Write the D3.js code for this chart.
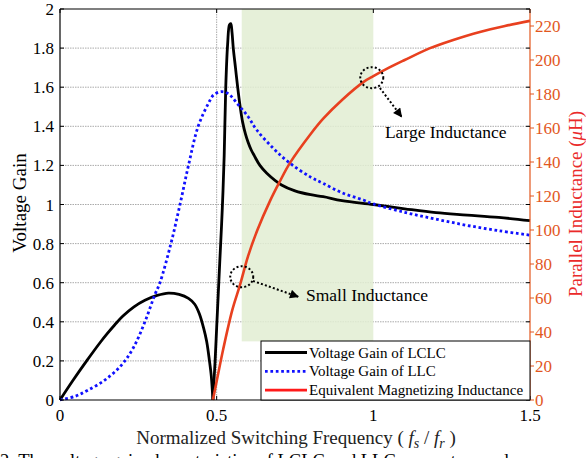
<!DOCTYPE html>
<html><head><meta charset="utf-8">
<script src="https://cdn.jsdelivr.net/npm/d3@7"></script>
<style>
body{margin:0;background:#fff;}
svg{display:block;font-family:"Liberation Serif","Times New Roman",serif;}
</style></head>
<body><svg id="c" width="586" height="458"></svg>
<script>
// ---- data ----
const lclcLeftX  = [0,0.04,0.085,0.13,0.15,0.175,0.2,0.235,0.271,0.31,0.346,0.38,0.41,0.43,0.445,0.458,0.468,0.477,0.483,0.488];
const lclcLeftY  = [0,0.097,0.2,0.298,0.338,0.385,0.428,0.475,0.51,0.535,0.547,0.54,0.52,0.49,0.44,0.37,0.3,0.2,0.12,0];
const lclcRightX = [0.488,0.495,0.5,0.505,0.51,0.518,0.524,0.529,0.535,0.541,0.545,0.549,0.553,0.56,0.567,0.575,0.583,0.592,0.6,0.61,0.62,0.638,0.66,0.707,0.75,0.8,0.84,0.9,1.0,1.1,1.2,1.3,1.4,1.5];
const lclcRightY = [0,0.2,0.37,0.54,0.71,0.98,1.25,1.6,1.82,1.92,1.925,1.88,1.8,1.7,1.6,1.5,1.42,1.36,1.32,1.28,1.25,1.2,1.16,1.1,1.07,1.05,1.04,1.02,1.0,0.978,0.958,0.946,0.934,0.917];
const llcX = [0,0.05,0.09,0.144,0.197,0.235,0.271,0.303,0.319,0.354,0.383,0.41,0.441,0.473,0.49,0.515,0.537,0.569,0.6,0.628,0.681,0.734,0.8,0.84,0.9,0.968,1.0,1.1,1.2,1.3,1.4,1.5];
const llcY = [0,0.02,0.051,0.103,0.18,0.27,0.4,0.54,0.6,0.8,1.0,1.2,1.4,1.515,1.56,1.577,1.567,1.51,1.45,1.381,1.287,1.211,1.14,1.108,1.06,1.023,1.003,0.96,0.925,0.893,0.866,0.843];
const indX = [0.488,0.5,0.521,0.55,0.575,0.6,0.63,0.67,0.7,0.734,0.8,0.84,0.9,0.968,1.0,1.05,1.1,1.181,1.25,1.34,1.42,1.5];
const indY = [0,11,30,53,68,84.5,100,117,128,139.5,156.5,165.5,176.5,187,190.5,195.5,200,207,211.5,216.5,220,223];
const xTicks = [0,0.5,1,1.5];
const xTickLabels = ["0","0.5","1","1.5"];
const yTicks = [0,0.2,0.4,0.6,0.8,1,1.2,1.4,1.6,1.8,2];
const yTickLabels = ["0","0.2","0.4","0.6","0.8","1","1.2","1.4","1.6","1.8","2"];
const y2Ticks = [0,20,40,60,80,100,120,140,160,180,200,220];
const legendLabels = ["Voltage Gain of LCLC","Voltage Gain of LLC","Equivalent Magnetizing Inductance"];
const shadeRange = {x0:0.58, x1:1.0, y0:0.3, y1:2};
// annotations (data units)
const annLarge = {cx:0.995, cL:189.6, fromX:1.021, fromG:1.596, toX:1.09, toG:1.449, textX:1.037, textG:1.34, text:"Large Inductance"};
const annSmall = {cx:0.58, cL:72.5, fromX:0.616, fromG:0.609, toX:0.76, toG:0.528, textX:0.785, textG:0.508, text:"Small Inductance"};

// ---- scales ----
const L=60, R=530, T=9, B=400;
const x = d3.scaleLinear([0,1.5],[L,R]);
const y = d3.scaleLinear([0,2],[B,T]);
const y2 = d3.scaleLinear([0,230],[B,T]);
const svg = d3.select("#c");
const ORANGE="#e2571e", RED="#e8401f", LABELRED="#ea2a2a", BLUE="#1010ff";

// grid
const grid = svg.append("g");
grid.selectAll("line.h").data(yTicks.filter(d=>d>0&&d<2)).join("line")
  .attr("x1",L).attr("x2",R).attr("y1",d=>y(d)).attr("y2",d=>y(d))
  .attr("stroke","#aaa").attr("stroke-width",1).attr("stroke-dasharray","1.5,1");
grid.selectAll("line.v").data([0.5]).join("line")
  .attr("x1",d=>x(d)).attr("x2",d=>x(d)).attr("y1",T).attr("y2",B)
  .attr("stroke","#aaa").attr("stroke-width",1).attr("stroke-dasharray","1.5,1");

// shaded region
svg.append("rect").attr("x",x(shadeRange.x0)).attr("y",y(shadeRange.y1))
  .attr("width",x(shadeRange.x1)-x(shadeRange.x0)).attr("height",y(shadeRange.y0)-y(shadeRange.y1))
  .attr("fill","#e2edd2").attr("opacity",0.85);

// curves
const mk = (xs,ys,sy)=>xs.map((v,i)=>[x(v),sy(ys[i])]);
const line = d3.line().curve(d3.curveCatmullRom.alpha(0.5));
svg.append("path").attr("d",line(mk(lclcLeftX,lclcLeftY,y))).attr("fill","none").attr("stroke","#000").attr("stroke-width",2.8);
svg.append("path").attr("d",line(mk(lclcRightX,lclcRightY,y))).attr("fill","none").attr("stroke","#000").attr("stroke-width",2.8).attr("stroke-linejoin","round");
svg.append("path").attr("d",line(mk(indX,indY,y2))).attr("fill","none").attr("stroke",RED).attr("stroke-width",2.6);
svg.append("path").attr("d",line(mk(llcX,llcY,y))).attr("fill","none").attr("stroke",BLUE).attr("stroke-width",2.8).attr("stroke-dasharray","2.7,2.7");

// axes frame
const ax = svg.append("g").attr("font-size",17);
ax.append("line").attr("x1",L).attr("x2",R).attr("y1",T).attr("y2",T).attr("stroke","#000").attr("stroke-width",1.2);
ax.append("line").attr("x1",L).attr("x2",R).attr("y1",B).attr("y2",B).attr("stroke","#000").attr("stroke-width",1.2);
ax.append("line").attr("x1",L).attr("x2",L).attr("y1",T).attr("y2",B).attr("stroke","#000").attr("stroke-width",1.2);
ax.append("line").attr("x1",R).attr("x2",R).attr("y1",T).attr("y2",B).attr("stroke",ORANGE).attr("stroke-width",1.2);
ax.selectAll("line.yl").data(yTicks).join("line").attr("x1",L).attr("x2",L+4).attr("y1",d=>y(d)).attr("y2",d=>y(d)).attr("stroke","#000");
ax.selectAll("line.yr").data(yTicks).join("line").attr("x1",R-4).attr("x2",R).attr("y1",d=>y(d)).attr("y2",d=>y(d)).attr("stroke","#000");
ax.selectAll("line.xb").data(xTicks).join("line").attr("x1",d=>x(d)).attr("x2",d=>x(d)).attr("y1",B).attr("y2",B-4).attr("stroke","#000");
ax.selectAll("line.xt").data(xTicks).join("line").attr("x1",d=>x(d)).attr("x2",d=>x(d)).attr("y1",T).attr("y2",T+4).attr("stroke","#000");
ax.selectAll("line.y2").data(y2Ticks).join("line").attr("x1",R).attr("x2",R+4).attr("y1",d=>y2(d)).attr("y2",d=>y2(d)).attr("stroke",ORANGE);
ax.selectAll("text.xl").data(xTicks).join("text").attr("x",d=>x(d)).attr("y",421).attr("text-anchor","middle").text((d,i)=>xTickLabels[i]);
ax.selectAll("text.yl").data(yTicks).join("text").attr("x",54).attr("y",d=>y(d)+6).attr("text-anchor","end").text((d,i)=>yTickLabels[i]);
ax.selectAll("text.y2").data(y2Ticks).join("text").attr("x",535).attr("y",d=>y2(d)+6).attr("fill",ORANGE).text(d=>d);

// axis titles
const xt = svg.append("text").attr("x",296).attr("y",444).attr("text-anchor","middle").attr("font-size",19).attr("fill","#222");
xt.append("tspan").text("Normalized Switching Frequency ( ");
xt.append("tspan").attr("font-style","italic").text("f");
xt.append("tspan").attr("font-style","italic").attr("font-size",14).attr("dy",4).text("s");
xt.append("tspan").attr("dy",-4).text(" / ");
xt.append("tspan").attr("font-style","italic").text("f");
xt.append("tspan").attr("font-style","italic").attr("font-size",14).attr("dy",4).text("r");
xt.append("tspan").attr("dy",-4).text(" )");
svg.append("text").attr("transform","translate(26,203) rotate(-90)").attr("text-anchor","middle").attr("font-size",19).text("Voltage Gain");
const rtg = svg.append("g").attr("transform","translate(582,204) rotate(-90)");
const rt = rtg.append("text").attr("x",-93).attr("y",0).attr("font-size",18.5).attr("fill",LABELRED)
  .attr("textLength",186).attr("lengthAdjust","spacingAndGlyphs");
rt.append("tspan").text("Parallel Inductance (");
rt.append("tspan").attr("font-style","italic").text("\u03bc");
rt.append("tspan").text("H)");

// annotations
const defs = svg.append("defs");
defs.append("marker").attr("id","ah").attr("viewBox","0 0 10 10").attr("refX",9).attr("refY",5)
  .attr("markerWidth",11).attr("markerHeight",9).attr("markerUnits","userSpaceOnUse").attr("orient","auto")
  .append("path").attr("d","M0,0 L10,5 L0,10 Z").attr("fill","#000");
[annLarge, annSmall].forEach(a=>{
  svg.append("ellipse").attr("cx",x(a.cx)).attr("cy",y2(a.cL)).attr("rx",11.5).attr("ry",10.5)
    .attr("fill","none").attr("stroke","#000").attr("stroke-width",2).attr("stroke-dasharray","2,2.2");
  svg.append("line").attr("x1",x(a.fromX)).attr("y1",y(a.fromG)).attr("x2",x(a.toX)).attr("y2",y(a.toG))
    .attr("stroke","#000").attr("stroke-width",2).attr("stroke-dasharray","2,2.2").attr("marker-end","url(#ah)");
  svg.append("text").attr("x",x(a.textX)).attr("y",y(a.textG)).attr("font-size",17.5).text(a.text);
});

// legend
const lg = svg.append("g");
lg.append("rect").attr("x",261).attr("y",341).attr("width",R-261).attr("height",B-341).attr("fill","#fff").attr("stroke","#000").attr("stroke-width",1);
const lstyles = [{c:"#000",d:null},{c:BLUE,d:"2.7,2.7"},{c:"#ff1a1a",d:null}];
legendLabels.forEach((t,i)=>{
  const cy = 352.5 + i*18.8;
  lg.append("line").attr("x1",265).attr("x2",307).attr("y1",cy).attr("y2",cy)
    .attr("stroke",lstyles[i].c).attr("stroke-width",2.8).attr("stroke-dasharray",lstyles[i].d);
  lg.append("text").attr("x",309).attr("y",cy+5).attr("font-size",15).text(t);
});

// caption (cut off at bottom, as in the reference)
svg.append("text").attr("x",0).attr("y",467).attr("font-size",18.5).text("2. The voltage gain characteristics of LCLC and LLC converters and");
</script></body></html>
